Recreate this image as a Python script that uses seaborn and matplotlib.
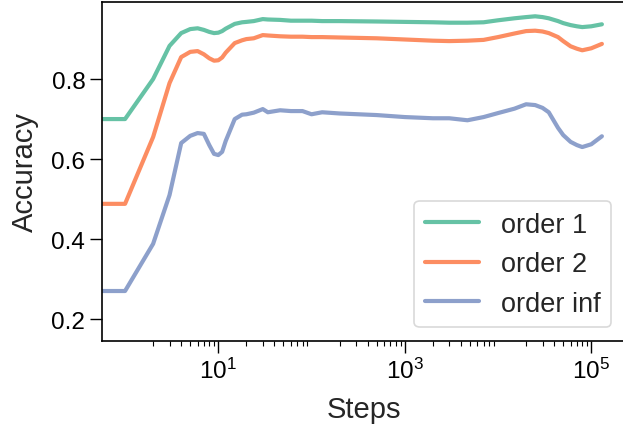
import numpy as np
import pandas as pd
import matplotlib
matplotlib.use("Agg")
import matplotlib.pyplot as plt
import matplotlib.ticker as mticker
import seaborn as sns

steps = [0.5, 1, 2, 3, 4, 5, 6, 7, 8, 9, 10, 11, 12, 15, 18, 20, 24, 30, 34, 46,
         60, 80, 100, 130, 200, 500, 1000, 2000, 3000, 4700, 7000, 10000, 15000,
         20000, 25000, 30000, 35000, 44000, 50000, 60000, 70000, 80000, 100000, 130000]

order_1 = [0.70, 0.70, 0.80, 0.883, 0.915, 0.925, 0.927, 0.923, 0.918, 0.915, 0.916,
           0.92, 0.926, 0.938, 0.942, 0.943, 0.945, 0.95, 0.949, 0.948, 0.946, 0.946,
           0.946, 0.945, 0.945, 0.944, 0.943, 0.942, 0.941, 0.941, 0.942, 0.947, 0.952,
           0.955, 0.957, 0.955, 0.952, 0.945, 0.94, 0.935, 0.932, 0.93, 0.932, 0.937]

order_2 = [0.488, 0.488, 0.655, 0.79, 0.855, 0.868, 0.87, 0.862, 0.852, 0.846, 0.847,
           0.854, 0.866, 0.89, 0.897, 0.9, 0.902, 0.91, 0.909, 0.907, 0.906, 0.906,
           0.905, 0.905, 0.904, 0.902, 0.899, 0.896, 0.895, 0.896, 0.898, 0.905, 0.914,
           0.92, 0.921, 0.919, 0.915, 0.905, 0.895, 0.882, 0.876, 0.872, 0.877, 0.888]

order_inf = [0.27, 0.27, 0.388, 0.51, 0.64, 0.658, 0.665, 0.663, 0.635, 0.613, 0.61,
             0.618, 0.645, 0.7, 0.711, 0.712, 0.716, 0.725, 0.717, 0.722, 0.72, 0.72,
             0.712, 0.717, 0.714, 0.71, 0.705, 0.702, 0.702, 0.697, 0.705, 0.715, 0.726,
             0.737, 0.735, 0.728, 0.717, 0.678, 0.66, 0.643, 0.635, 0.63, 0.637, 0.657]

labels = ["order 1", "order 2", "order inf"]
x_major = [1e1, 1e3, 1e5]
x_minor = [s * 10.0 ** d for d in range(0, 5) for s in range(2, 10)]

frames = []
for lab, vals in zip(labels, [order_1, order_2, order_inf]):
    frames.append(pd.DataFrame({"Steps": steps, "Accuracy": vals, "order": lab}))
df = pd.concat(frames, ignore_index=True)

sns.set_theme(style="ticks")
plt.rcParams["font.family"] = ["Liberation Sans", "DejaVu Sans"]
plt.rcParams["mathtext.fontset"] = "custom"
plt.rcParams["mathtext.rm"] = "Liberation Sans"
plt.rcParams["mathtext.it"] = "Liberation Sans:italic"
plt.rcParams["mathtext.bf"] = "Liberation Sans:bold"

fig = plt.figure(figsize=(6.23, 4.31), dpi=100)
ax = fig.add_axes([102 / 623, 89 / 431, 523 / 623, 339.5 / 431])

sns.lineplot(data=df, x="Steps", y="Accuracy", hue="order", palette="Set2",
             linewidth=3.0, ax=ax, sort=True, estimator=None)
ax.set_xscale("log")
ax.set_xlim(0.566, 2.3e5)
ax.set_ylim(0.145, 0.994)
ax.set_yticks([0.2, 0.4, 0.6, 0.8])
ax.xaxis.set_major_locator(mticker.FixedLocator(x_major))
ax.xaxis.set_major_formatter(mticker.LogFormatterSciNotation())
ax.xaxis.set_minor_locator(mticker.FixedLocator(x_minor))
ax.xaxis.set_minor_formatter(mticker.NullFormatter())

for s in ax.spines.values():
    s.set_linewidth(1.2)
    s.set_color("black")
ax.tick_params(axis="both", which="major", length=8.5, width=1.0, labelsize=17.5,
               colors="black", labelcolor="black")
ax.tick_params(axis="x", which="minor", length=3.5, width=0.8, colors="black")
ax.set_xlabel("Steps", fontsize=21, color="#262626", labelpad=9)
ax.set_ylabel("Accuracy", fontsize=21, color="#262626", labelpad=9)

leg = ax.legend(loc="lower right", fontsize=19.5, frameon=True, title=None)
leg.get_frame().set_edgecolor("#d0d0d0")
leg.get_frame().set_linewidth(1.2)
for line in leg.get_lines():
    line.set_linewidth(3.0)

fig.savefig("out.png", dpi=100)
